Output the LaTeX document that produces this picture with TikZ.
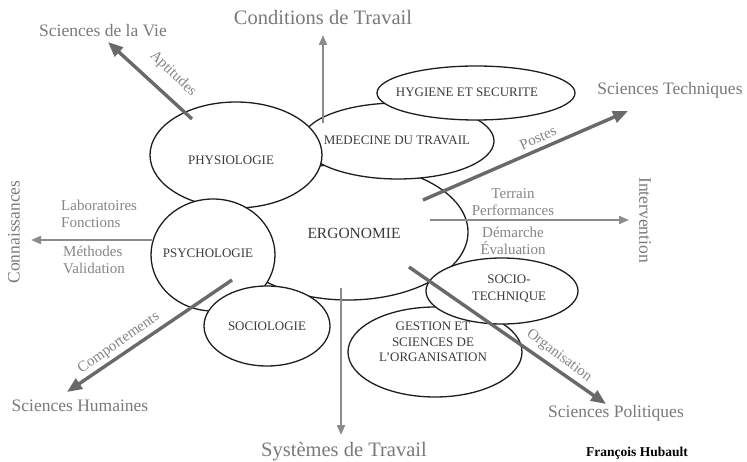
\documentclass[tikz,border=0pt]{standalone}
\usepackage{fontspec}
\setmainfont{Liberation Serif}
\usetikzlibrary{shapes.geometric,arrows.meta}
\definecolor{lblgray}{HTML}{7A7A7A}
\definecolor{smallgray}{HTML}{868686}
\definecolor{thickgray}{HTML}{696969}
\definecolor{thingray}{HTML}{8C8C8C}
\definecolor{blobtext}{HTML}{3C3C3C}
\definecolor{blobline}{HTML}{1E1E1E}
\begin{document}
\begin{tikzpicture}[x=1pt,y=-1pt,
  blob/.style={ellipse, draw=blobline, line width=1.3pt, fill=white, inner sep=0pt,
    text=blobtext, font=\fontsize{13}{17}\selectfont, align=center},
  blobtxt/.style={text=blobtext, font=\fontsize{13}{15.5}\selectfont, align=center, inner sep=0pt},
  bigarrow/.style={draw=thickgray, line width=3.4pt, -{Triangle[length=15pt,width=12pt]}},
  thinarrow/.style={draw=thingray, line width=2pt, -{Triangle[length=10pt,width=8pt]}},
  biglabel/.style={text=lblgray, font=\fontsize{17.5}{20}\selectfont, inner sep=0pt},
  hugelabel/.style={text=lblgray, font=\fontsize{20.5}{24}\selectfont, inner sep=0pt},
  smalllabel/.style={text=smallgray, font=\fontsize{15}{17}\selectfont, inner sep=0pt},
]
\useasboundingbox[fill=white] (0,0) rectangle (747,462);

% ellipses (back to front)
\node[blob, minimum width=240pt, minimum height=136pt, font=\fontsize{15.5}{18}\selectfont] (ergo) at (348,232) {};
\node[blobtxt, font=\fontsize{15.5}{18}\selectfont] (ergot) at (354,233) {ERGONOMIE};
\node[blob, minimum width=174pt, minimum height=90pt] (gest) at (435,352) {};
\node[blobtxt] (gestt) at (433,342) {GESTION ET\\SCIENCES DE\\L'ORGANISATION};
\node[blob, minimum width=152pt, minimum height=66pt] (soctech) at (502,291) {};
\node[blobtxt, font=\fontsize{13}{17}\selectfont] (soctecht) at (509,289) {SOCIO-\\TECHNIQUE};
\node[blob, minimum width=192pt, minimum height=76pt] (med) at (398,141) {};
\node[blobtxt] (medt) at (397,140) {MEDECINE DU TRAVAIL};
\node[blob, minimum width=198pt, minimum height=54pt] (hyg) at (476,93) {};
\node[blobtxt] (hygt) at (467,92) {HYGIENE ET SECURITE};
\node[blob, minimum width=172pt, minimum height=106pt] (phys) at (236,155) {};
\node[blobtxt] (physt) at (231,160) {PHYSIOLOGIE};
\node[blob, minimum width=124pt, minimum height=112pt] (psy) at (213,255) {};
\node[blobtxt] (psyt) at (208,253) {PSYCHOLOGIE};
\node[blob, minimum width=126pt, minimum height=80pt] (soc) at (267,326) {SOCIOLOGIE};

% outer labels
\node[biglabel] (vie) at (103,31) {Sciences de la Vie};
\node[hugelabel] (cond) at (323,17) {Conditions de Travail};
\node[biglabel] (tech) at (670,90) {Sciences Techniques};
\node[biglabel, rotate=-90] (interv) at (645,220) {Intervention};
\node[biglabel, rotate=90] (conn) at (14,232) {Connaissances};
\node[biglabel] (hum) at (80,406) {Sciences Humaines};
\node[hugelabel] (syst) at (344,452) {Systèmes de Travail};
\node[biglabel] (pol) at (616,413) {Sciences Politiques};
\node[inner sep=0pt, font=\bfseries\fontsize{13.5}{16}\selectfont] (auth) at (637,453) {François Hubault};

% connector end points
\coordinate (aptS) at (192,119);
\coordinate (aptE) at (108,42);
\coordinate (condS) at (323,123);
\coordinate (condE) at (323,35);
\coordinate (posS) at (423,200);
\coordinate (posE) at (628,111);
\coordinate (intS) at (430,220);
\coordinate (intE) at (629,220);
\coordinate (connS) at (152,240);
\coordinate (connE) at (31,240);
\coordinate (compS) at (232,280);
\coordinate (compE) at (67,392);
\coordinate (sysS) at (341,288);
\coordinate (sysE) at (341,435);
\coordinate (orgS) at (409,267);
\coordinate (orgE) at (606,404);

% connectors
\draw[thinarrow] (condS) -- (condE);
\draw[thinarrow] (intS) -- (intE);
\draw[thinarrow] (connS) -- (connE);
\draw[thinarrow] (sysS) -- (sysE);
\draw[bigarrow] (aptS) -- (aptE);
\draw[bigarrow] (posS) -- (posE);
\draw[bigarrow] (compS) -- (compE);
\draw[bigarrow] (orgS) -- (orgE);

% connector labels
\node[smalllabel, rotate=-44] (aptl) at (173,74) {Aptitudes};
\node[smalllabel, rotate=24] (posl) at (538,138) {Postes};
\node[smalllabel, rotate=35] (compl) at (119,343) {Comportements};
\node[smalllabel, rotate=-37] (orgl) at (559,356) {Organisation};
\node[smalllabel, align=center] (intl1) at (513,202) {Terrain\\Performances};
\node[smalllabel, align=center] (intl2) at (513,240.5) {Démarche\\Évaluation};
\node[smalllabel, align=left, anchor=west] (connl1) at (61,213.5) {Laboratoires\\Fonctions};
\node[smalllabel, align=left, anchor=west] (connl2) at (63,259.5) {Méthodes\\Validation};
\end{tikzpicture}
\end{document}
